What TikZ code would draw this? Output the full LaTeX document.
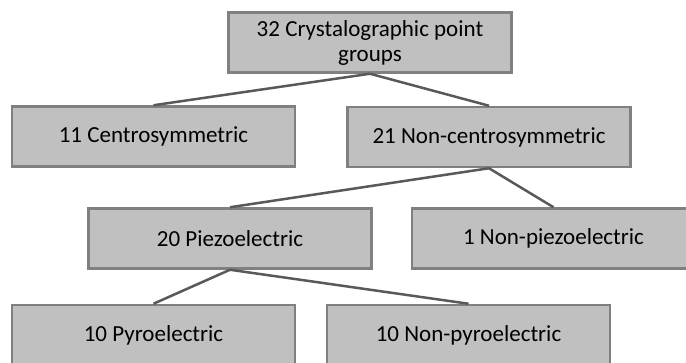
\documentclass[tikz,border=0pt]{standalone}
\usepackage{fontspec}
\setmainfont{Carlito}
\usepackage{tikz}
\usetikzlibrary{
  positioning,
  calc
}
\definecolor{boxfill}{RGB}{192,192,192}
\definecolor{boxline}{RGB}{128,128,128}
\definecolor{connline}{RGB}{89,89,89}

\begin{document}
\begin{tikzpicture}[
  x=1pt, y=1pt,
  box/.style={draw=boxline, fill=boxfill, line width=2.5pt, align=center,
    minimum width=283pt, minimum height=60pt, inner sep=0pt,
    font=\fontsize{23}{25}\selectfont},
  conn/.style={draw=connline, line width=2.5pt}
]
\useasboundingbox (0,0) rectangle (686,362);

% Top: all point groups
\node[box] (pg) at (370,319.5) {32 Crystalographic point\\groups};

% Second row
\node[box] (centro) at (153.5,225.5) {11 Centrosymmetric};
\node[box] (noncentro) at (489,225) {21 Non-centrosymmetric};

% Third row
\node[box] (piezo) at (230,123.5) {20 Piezoelectric};
\node[box] (nonpiezo) at (553.5,123.5) {1 Non-piezoelectric};

% Bottom row (cut by the page edge)
\node[box] (pyro) at (153.5,27) {10 Pyroelectric};
\node[box] (nonpyro) at (468.5,27) {10 Non-pyroelectric};

% Connectors
\draw[conn] (pg.south) -- (centro.north);
\draw[conn] (pg.south) -- (noncentro.north);
\draw[conn] (noncentro.south) -- (piezo.north);
\draw[conn] (noncentro.south) -- (nonpiezo.north);
\draw[conn] (piezo.south) -- (pyro.north);
\draw[conn] (piezo.south) -- (nonpyro.north);

\end{tikzpicture}
\end{document}
